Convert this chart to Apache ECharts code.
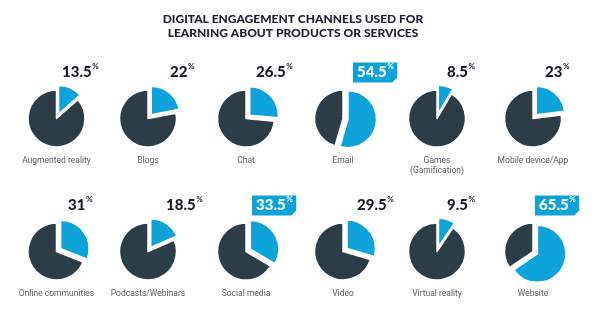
<!DOCTYPE html>
<html>
<head>
<meta charset="utf-8">
<script src="https://cdn.jsdelivr.net/npm/echarts@6/dist/echarts.min.js"></script>
<style>
  html, body { margin: 0; padding: 0; background: #fff; }
  #chart { width: 600px; height: 325px; }
</style>
</head>
<body>
<div id="chart"></div>
<script>
// Channels and the share of respondents using each one (%)
const categories = [
  'Augmented reality', 'Blogs', 'Chat', 'Email', 'Games\n(Gamification)', 'Mobile device/App',
  'Online communities', 'Podcasts/Webinars', 'Social media', 'Video', 'Virtual reality', 'Website'
];
const shares = [13.5, 22, 26.5, 54.5, 8.5, 23, 31, 18.5, 33.5, 29.5, 9.5, 65.5];
// Channels whose value is shown in a filled tag
const highlighted = ['Email', 'Social media', 'Website'];

const titleLines = ['DIGITAL ENGAGEMENT CHANNELS USED FOR', 'LEARNING ABOUT PRODUCTS OR SERVICES'];

// Grid layout (pixels)
const colX = [56.5, 148, 246, 343, 437, 533];
const rowY = [118.5, 251.5];
const pieRadius = 28.5;
const valueLeft = [62, 170, 256, 357, 447, 545, 68, 166, 256, 357, 447, 539];

const BLUE = '#0ba3da';
const DARK = '#2c3d48';
const NUM_FONT = 'Lato';

const measureCtx = document.createElement('canvas').getContext('2d');
function textWidth(str, font) {
  measureCtx.font = font;
  return measureCtx.measureText(str).width;
}

const series = [];
const graphics = [];

categories.forEach((name, i) => {
  const cx = colX[i % 6];
  const cy = rowY[Math.floor(i / 6)];
  const v = shares[i];
  const isTag = highlighted.includes(name);

  series.push({
    type: 'pie',
    name: name,
    center: [cx, cy],
    radius: pieRadius,
    startAngle: 90,
    clockwise: true,
    selectedMode: 'single',
    selectedOffset: 5,
    silent: true,
    label: { show: false },
    labelLine: { show: false },
    itemStyle: { borderColor: '#fff', borderWidth: 1.5 },
    data: [
      { name: name, value: v, selected: true, itemStyle: { color: BLUE } },
      { name: 'other', value: 100 - v, itemStyle: { color: DARK } }
    ]
  });

  // category caption under the pie
  graphics.push({
    type: 'text',
    x: cx, y: cy + 37,
    style: {
      text: name,
      font: '8.5px Roboto',
      fill: '#5a5a5a',
      align: 'center',
      verticalAlign: 'top',
      lineHeight: 10.5
    },
    silent: true
  });

  // value label above-right of the pie
  const numStr = String(v);
  const x0 = valueLeft[i];
  const yc = cy - 46;
  const numFont = '900 15px ' + NUM_FONT;
  const nw = textWidth(numStr, numFont);
  if (isTag) {
    const pw = textWidth('%', 'bold 8px ' + NUM_FONT);
    const bx0 = x0 - 4, bx1 = x0 + nw + pw + 4;
    const by0 = yc - 10, by1 = yc + 10;
    const ch = 5;
    graphics.push({
      type: 'polygon',
      shape: { points: [[bx0, by0], [bx1, by0], [bx1, by1 - ch], [bx1 - ch, by1], [bx0, by1]] },
      style: { fill: BLUE },
      silent: true
    });
  }
  const color = isTag ? '#fff' : '#161b26';
  graphics.push({
    type: 'text',
    x: x0, y: yc,
    style: {
      text: numStr,
      font: numFont,
      fill: color,
      align: 'left',
      verticalAlign: 'middle'
    },
    silent: true
  });
  graphics.push({
    type: 'text',
    x: x0 + nw + 0.5, y: yc - 6,
    style: {
      text: '%',
      font: 'bold 8px ' + NUM_FONT,
      fill: color,
      align: 'left',
      verticalAlign: 'middle'
    },
    silent: true
  });
});

titleLines.forEach((t, k) => {
  graphics.push({
    type: 'text',
    x: 293, y: 19 + k * 14.5,
    style: {
      text: t,
      font: '900 12px Lato',
      fill: '#1c2130',
      align: 'center',
      verticalAlign: 'middle'
    },
    silent: true
  });
});

const chart = echarts.init(document.getElementById('chart'), null, { renderer: 'canvas' });
chart.setOption({
  animation: false,
  backgroundColor: '#fff',
  series: series,
  graphic: { elements: graphics }
});
</script>
</body>
</html>
